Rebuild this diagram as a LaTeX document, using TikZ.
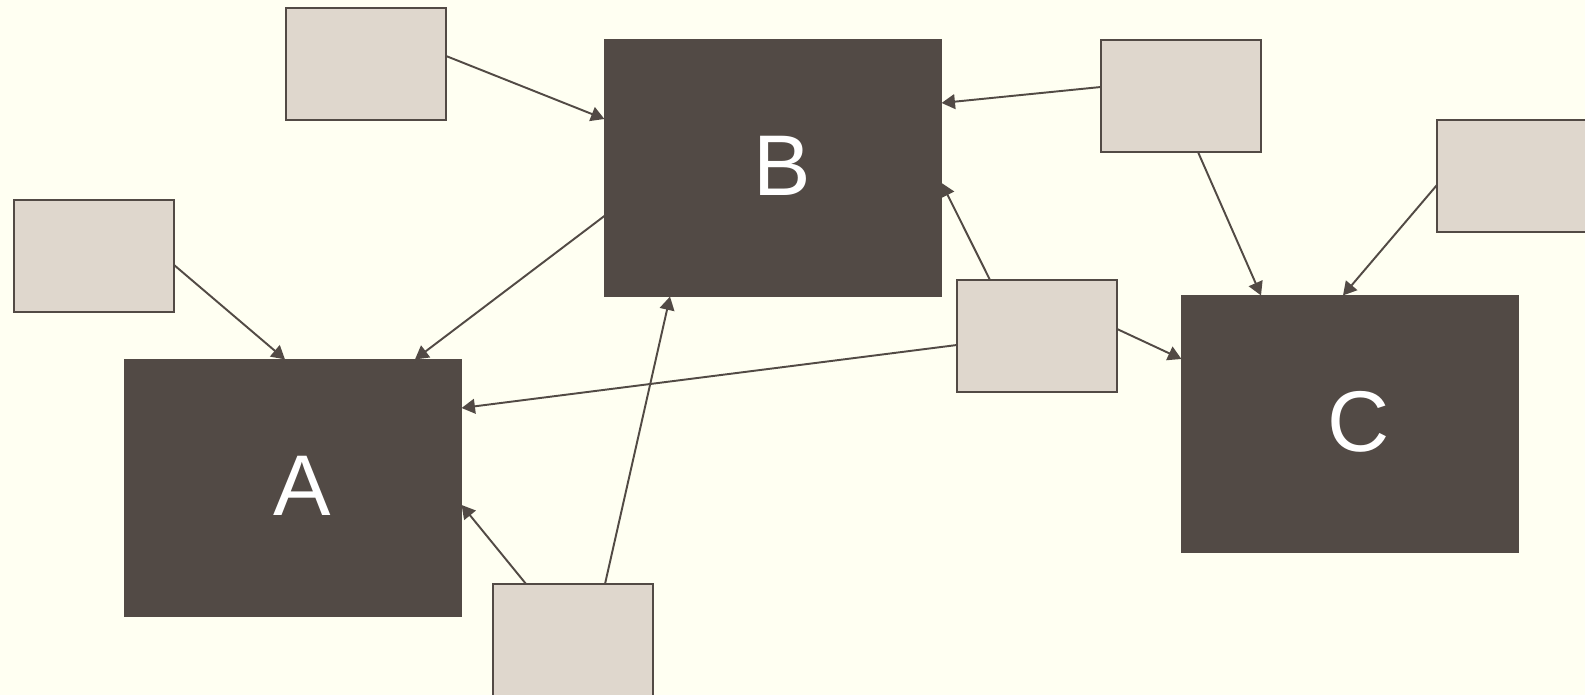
\documentclass[tikz,border=0pt]{standalone}
\usepackage{fontspec}
\setmainfont{Liberation Sans}
\usetikzlibrary{positioning,calc,arrows.meta}

\definecolor{paper}{RGB}{255,255,242}
\definecolor{bark}{RGB}{82,74,69}
\definecolor{sand}{RGB}{223,215,205}

\tikzset{
	bigbox/.style={fill=bark, draw=none, minimum width=3.37cm, minimum height=2.57cm, inner sep=0pt, outer sep=0pt, text=white, font=\fontsize{24.5}{30}\selectfont},
	smallbox/.style={fill=sand, draw=bark, line width=0.6pt, minimum width=1.6cm, minimum height=1.12cm, inner sep=0pt, outer sep=0pt},
	link/.style={draw=bark, line width=0.55pt, -{Triangle[length=3.8pt,width=4.2pt]}}
}
\newcommand{\boxlabel}[1]{\hspace{0.18cm}\raisebox{0.05cm}{#1}}

\begin{document}
\begin{tikzpicture}[x=0.01cm, y=-0.01cm]
	\fill[paper] (0,0) rectangle (1585,695);
	\useasboundingbox (0,0) rectangle (1585,695);

	% the three big boxes
	\node[bigbox] (A) at (293,488) {\boxlabel{A}};
	\node[bigbox] (B) at (773,168) {\boxlabel{B}};
	\node[bigbox] (C) at (1350,424) {\boxlabel{C}};

	% small boxes
	\node[smallbox] (s1) at (366,64) {};
	\node[smallbox] (s2) at (94,256) {};
	\node[smallbox] (s3) at (1181,96) {};
	\node[smallbox] (s4) at (1517,176) {};
	\node[smallbox] (s5) at (1037,336) {};
	\node[smallbox] (s6) at (573,640) {};

	\path[link] ($(s1.east)+(0,-8)$) -- ($(B.west)+(0,-49)$);
	\path[link] ($(s2.east)+(0,9)$) -- ($(A.north)+(-8,0)$);
	\path[link] ($(B.west)+(0,48)$) -- ($(A.north)+(122,0)$);

	\path[link] ($(s3.west)+(0,-9)$) -- ($(B.east)+(0,-65)$);
	\path[link] ($(s3.south)+(17,0)$) -- ($(C.north)+(-89,0)$);
	\path[link] ($(s4.west)+(0,9)$) -- ($(C.north)+(-7,0)$);

	\path[link] ($(s5.north)+(-47,0)$) -- ($(B.east)+(0,15)$);
	\path[link] ($(s5.west)+(0,9)$) -- ($(A.east)+(0,-80)$);
	\path[link] ($(s5.east)+(0,-7)$) -- ($(C.west)+(0,-65)$);

	\path[link] ($(s6.north)+(32,0)$) -- ($(B.south)+(-103,0)$);
	\path[link] ($(s6.north)+(-47,0)$) -- ($(A.east)+(0,17)$);

\end{tikzpicture}
\end{document}
